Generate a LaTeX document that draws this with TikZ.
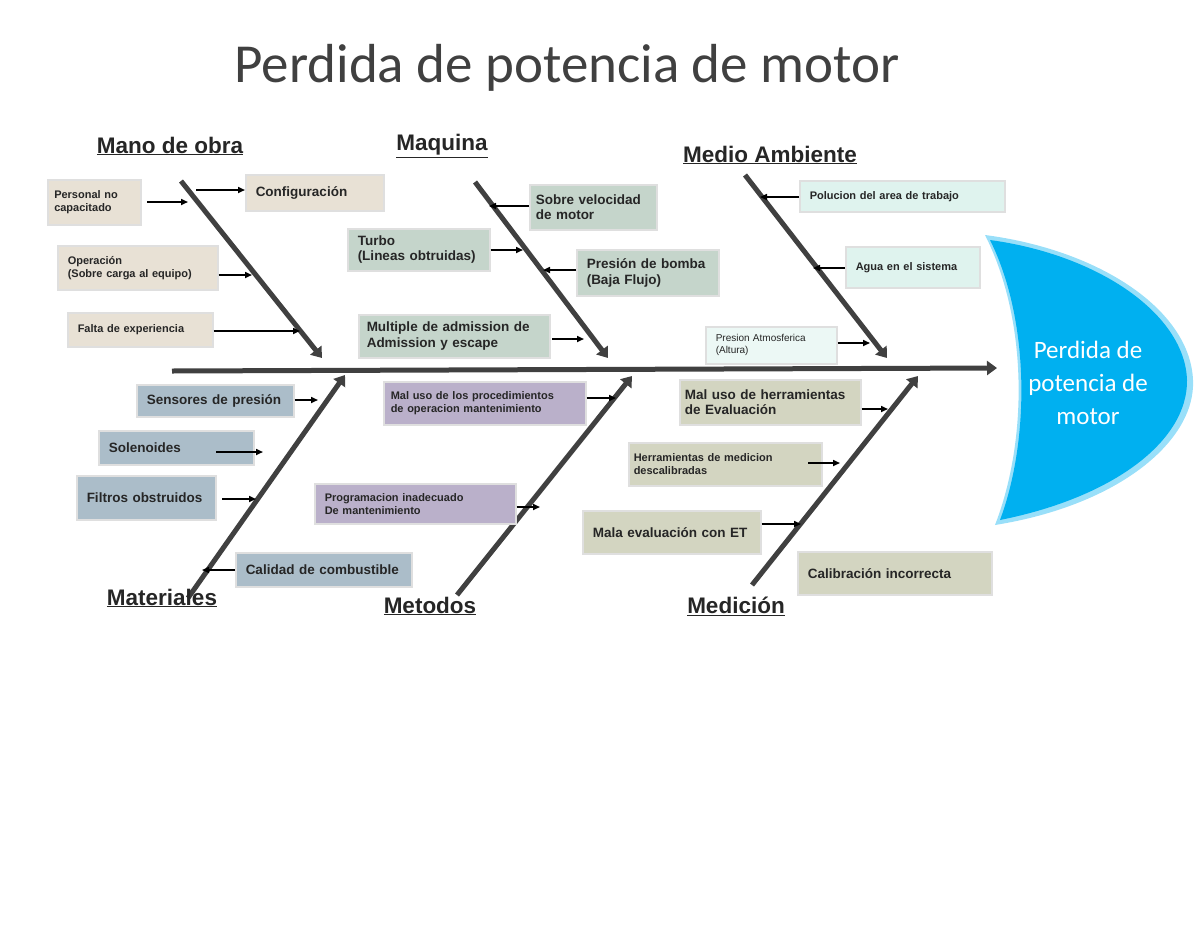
\documentclass[tikz,border=0pt]{standalone}
\usepackage{fontspec}
\setmainfont{Liberation Sans}
\newfontfamily\calib{Carlito}
\usetikzlibrary{arrows.meta}
\definecolor{beige}{HTML}{E8E1D5}
\definecolor{sage}{HTML}{C5D5CB}
\definecolor{mint}{HTML}{DFF3EE}
\definecolor{steel}{HTML}{ABBDC9}
\definecolor{lilac}{HTML}{BAB0CA}
\definecolor{olive}{HTML}{D3D5C1}
\definecolor{bone}{HTML}{404040}
\definecolor{headblue}{HTML}{00B0F0}
\tikzset{
 bx/.style={draw=gray!25,line width=1.5pt,anchor=north west,align=left,inner xsep=10pt,inner ysep=2pt,font=\bfseries\fontsize{13.5}{15.5}\selectfont,text=black!85},
 sm/.style={font=\bfseries\fontsize{11}{13}\selectfont},
 bonel/.style={line width=5pt,draw=bone,-{Triangle[length=10pt,width=14pt]}},
 arr/.style={line width=1.6pt,-{Triangle[length=7pt,width=6pt]}},
 hd/.style={font=\bfseries\fontsize{22.5}{26}\selectfont,text=black!85}
}
\begin{document}
\begin{tikzpicture}[x=1pt,y=-1pt]
\useasboundingbox (0,0) rectangle (1200,927);
\node[font=\calib\fontsize{55}{60}\selectfont,text=black!75] (title) at (567,68) {Perdida de potencia de motor};
% head
\fill[headblue!40] (985,235) .. controls (1028,320) and (1028,440) .. (995,525) .. controls (1120,505) and (1196,440) .. (1193,380) .. controls (1190,310) and (1100,250) .. (985,235) -- cycle;
\fill[headblue] (990,240) .. controls (1030,320) and (1030,440) .. (1000,520) .. controls (1115,497) and (1188,440) .. (1187,380) .. controls (1185,315) and (1100,255) .. (990,240) -- cycle;
\node[font=\calib\fontsize{25}{33}\selectfont,text=white,align=center] (head) at (1088,383) {Perdida de\\potencia de\\motor};
% spine and bones
\coordinate (s0) at (172,371); \coordinate (s1) at (997,368);
\draw[bonel] (s0) -- (s1);
\coordinate (a0) at (181,181); \coordinate (a1) at (322,358);
\coordinate (b0) at (475,182); \coordinate (b1) at (608,358);
\coordinate (c0) at (745,175); \coordinate (c1) at (887,358);
\coordinate (d0) at (188,598); \coordinate (d1) at (345,375);
\coordinate (e0) at (457,595); \coordinate (e1) at (632,376);
\coordinate (f0) at (752,585); \coordinate (f1) at (918,376);
\foreach \p in {a,b,c,d,e,f}{\draw[bonel] (\p0) -- (\p1);}
% headings
\node[hd] (h1) at (170,146) {\underline{Mano de obra}};
\node[hd] (h2) at (442,146) {\underline{Maquina}};
\node[hd] (h3) at (770,155) {\underline{Medio Ambiente}};
\node[hd] (h4) at (162,598) {\underline{Materiales}};
\node[hd] (h5) at (430,606) {\underline{Metodos}};
\node[hd] (h6) at (736,606) {\underline{Medición}};
% boxes
\node[bx,sm,fill=beige,minimum width=93pt,minimum height=45pt,text width=80pt,inner xsep=6pt] (p1) at (47,179) {Personal no\\capacitado};
\node[bx,fill=beige,minimum width=138pt,minimum height=36pt,text width=118pt,anchor=west] (p2) at (245,193) {Configuración};
\node[bx,sm,fill=beige,minimum width=160pt,minimum height=44pt,text width=140pt] (p3) at (57,245) {Operación\\(Sobre carga al equipo)};
\node[bx,sm,fill=beige,minimum width=145pt,minimum height=34pt,text width=125pt] (p4) at (67,312) {Falta de experiencia};
\node[bx,fill=sage,minimum width=127pt,minimum height=45pt,text width=115pt,inner xsep=6pt] (m1) at (529,184) {Sobre velocidad\\de motor};
\node[bx,fill=sage,minimum width=142pt,minimum height=42pt,text width=122pt] (m2) at (347,228) {Turbo\\(Lineas obtruidas)};
\node[bx,fill=sage,minimum width=142pt,minimum height=46pt,text width=122pt] (m3) at (576,249) {Presión de bomba\\(Baja Flujo)};
\node[bx,fill=sage,minimum width=191pt,minimum height=43pt,text width=175pt,inner xsep=8pt] (m4) at (358,314) {Multiple de admission de\\Admission y escape};
\node[bx,sm,fill=mint,minimum width=205pt,minimum height=31pt,text width=185pt] (e1b) at (799,180) {Polucion del area de trabajo};
\node[bx,sm,fill=mint,minimum width=134pt,minimum height=41pt,text width=114pt] (e2) at (845,246) {Agua en el sistema};
\node[bx,fill=mint!60,minimum width=131pt,minimum height=37pt,text width=111pt,font=\fontsize{10}{12}\selectfont] (e3) at (705,326) {Presion Atmosferica\\(Altura)};
\node[bx,fill=steel,minimum width=157pt,minimum height=32pt,text width=137pt] (t1) at (136,384) {Sensores de presión};
\node[bx,fill=steel,minimum width=155pt,minimum height=34pt,text width=135pt] (t2) at (98,430) {Solenoides};
\node[bx,fill=steel,minimum width=139pt,minimum height=44pt,text width=119pt] (t3) at (76,475) {Filtros obstruidos};
\node[bx,fill=steel,minimum width=176pt,minimum height=34pt,text width=156pt] (t4) at (235,552) {Calidad de combustible};
\node[bx,sm,fill=lilac,minimum width=202pt,minimum height=43pt,text width=188pt,inner xsep=7pt] (g1) at (383,381) {Mal uso de los procedimientos\\de operacion mantenimiento};
\node[bx,sm,fill=lilac,minimum width=201pt,minimum height=40pt,text width=181pt] (g2) at (314,483) {Programacion inadecuado\\De mantenimiento};
\node[bx,fill=olive,minimum width=181pt,minimum height=45pt,text width=171pt,inner xsep=5pt] (o1) at (679,379) {Mal uso de herramientas\\de Evaluación};
\node[bx,sm,fill=olive,minimum width=193pt,minimum height=43pt,text width=183pt,inner xsep=5pt] (o2) at (628,442) {Herramientas de medicion\\descalibradas};
\node[bx,fill=olive,minimum width=178pt,minimum height=43pt,text width=158pt] (o3) at (582,510) {Mala evaluación con ET};
\node[bx,fill=olive,minimum width=194pt,minimum height=43pt,text width=174pt] (o4) at (797,551) {Calibración incorrecta};
% small arrows
\draw[arr] (147,202) -- (188,202);
\draw[arr] (196,190) -- (p2.west |- 0,190);
\draw[arr] (p3.east |- 0,275) -- (252,275);
\draw[arr] (p4.east |- 0,331) -- (300,331);
\draw[arr] (m1.west |- 0,206) -- (489,206);
\draw[arr] (m2.east |- 0,250) -- (523,250);
\draw[arr] (m3.west |- 0,270) -- (543,270);
\draw[arr] (552,339) -- (584,339);
\draw[arr] (e1b.west |- 0,197) -- (760,197);
\draw[arr] (e2.west |- 0,268) -- (813,268);
\draw[arr] (e3.east |- 0,343) -- (870,343);
\draw[arr] (t1.east |- 0,400) -- (318,400);
\draw[arr] (216,452) -- (263,452);
\draw[arr] (222,499) -- (256,499);
\draw[arr] (t4.west |- 0,570) -- (202,570);
\draw[arr] (g1.east |- 0,398) -- (616,398);
\draw[arr] (g2.east |- 0,507) -- (540,507);
\draw[arr] (o1.east |- 0,409) -- (888,409);
\draw[arr] (808,463) -- (840,463);
\draw[arr] (o3.east |- 0,524) -- (801,524);
\end{tikzpicture}
\end{document}
